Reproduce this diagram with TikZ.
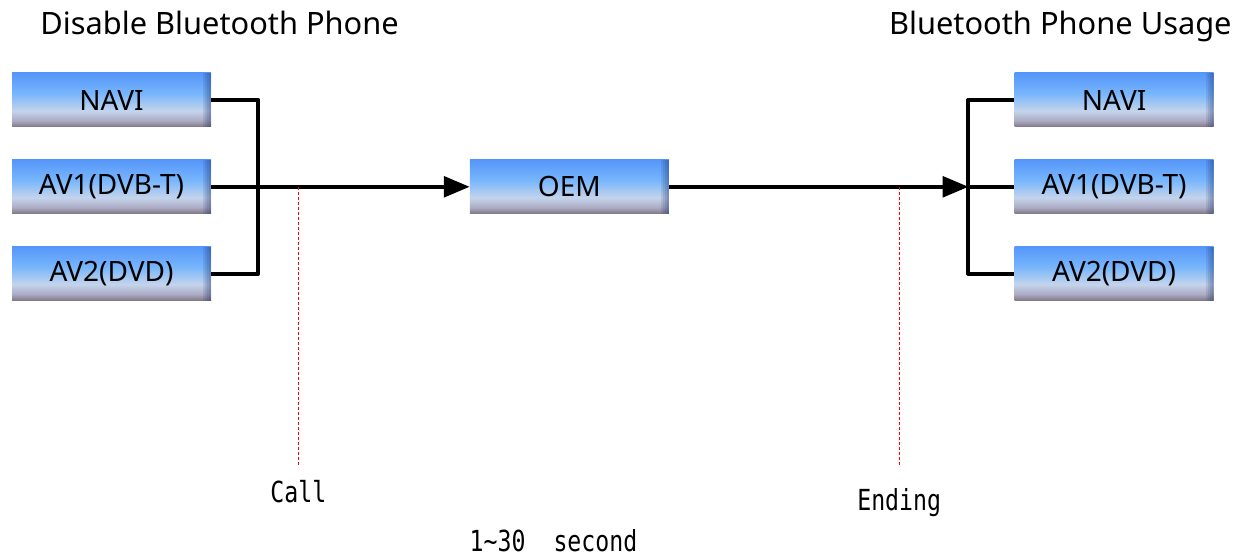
\documentclass[tikz,border=0pt]{standalone}
\usepackage{xcolor}
\usepackage{fontspec}
\setmainfont{Noto Sans}
\newfontfamily\narrowmono[FakeStretch=0.8]{DejaVu Sans Mono}
\usepackage{tikz}
\usetikzlibrary{arrows, positioning}
\definecolor{boxtop}{RGB}{85,150,250}
\definecolor{boxhigh}{RGB}{120,182,252}
\definecolor{boxmid}{RGB}{196,212,236}
\definecolor{boxlow}{RGB}{172,172,196}
\definecolor{boxbot}{RGB}{128,118,134}
\definecolor{boxedge}{RGB}{30,50,110}
\pgfdeclareverticalshading{boxshade}{100bp}{color(0bp)=(boxbot); color(25bp)=(boxbot); color(31bp)=(boxlow); color(40bp)=(boxmid); color(56bp)=(boxhigh); color(75bp)=(boxtop); color(100bp)=(boxtop)}
\tikzstyle{module} = [rectangle, minimum width=99.5pt, minimum height=27pt, inner sep=0pt, text centered, shading=boxshade, font=\fontsize{14}{16}\selectfont,
  path picture={\foreach \k in {1,...,4} \fill[boxedge, opacity=0.12] ([xshift=-\k pt]path picture bounding box.north east) rectangle (path picture bounding box.south east);}]
\tikzstyle{bus} = [line width=2pt, line join=round]
\tikzstyle{arrow} = [line width=2pt, ->, >=triangle 45]
\tikzstyle{marker} = [red, line width=0.6pt, dash pattern=on 1.5pt off 1pt]
\tikzstyle{event} = [inner sep=0pt, font=\narrowmono\fontsize{14.5}{16}\selectfont]
\tikzstyle{heading} = [inner sep=0pt, font=\fontsize{15.4}{18}\selectfont]

\begin{document}
\begin{tikzpicture}[node distance=16pt]
            \useasboundingbox (0,0) rectangle (618pt,-277.5pt);
            % before the call
            \node[module] (navil) at (55.75pt,-50pt) {NAVI};
            \node[module, below=of navil] (avonel) {AV1(DVB-T)};
            \node[module, below=of avonel] (avtwol) {AV2(DVD)};
            \node[module, right=129pt of avonel] (oem) {OEM};
            % after the call
            \node[module, right=172.5pt of oem] (avoner) {AV1(DVB-T)};
            \node[module, above=of avoner] (navir) {NAVI};
            \node[module, below=of avoner] (avtwor) {AV2(DVD)};

            \node[heading, anchor=base west] (titlel) at (20pt,-17.5pt) {Disable Bluetooth Phone};
            \node[heading, anchor=base east] (titler) at (616pt,-17.5pt) {Bluetooth Phone Usage};

            \coordinate[right=23.5pt of avonel.east] (lbar);
            \coordinate[left=23pt of avoner.west] (rbar);
            \draw[bus] (navil.east) -| (lbar) |- (avtwol.east);
            \draw[arrow] (avonel.east) -- (oem.west);
            \draw[bus] (navir.west) -| (rbar) |- (avtwor.west);
            \draw[bus] (rbar) -- (avoner.west);
            \draw[arrow] (oem.east) -- (rbar);

            % time marks
            \coordinate[right=43.5pt of avonel.east] (calltop);
            \coordinate[below=139pt of calltop] (callbot);
            \coordinate[right=115pt of oem.east] (endtop);
            \coordinate[below=140pt of endtop] (endbot);
            \draw[marker] (calltop) -- (callbot);
            \draw[marker] (endtop) -- (endbot);
            \node[event, below=19pt of callbot, anchor=base] (call) {Call};
            \node[event, below=22pt of endbot, anchor=base] (ending) {Ending};
            \node[event, anchor=base] (span) at (276.75pt,-275.5pt) {1\textasciitilde 30\ \ second};
        \end{tikzpicture}
\end{document}
